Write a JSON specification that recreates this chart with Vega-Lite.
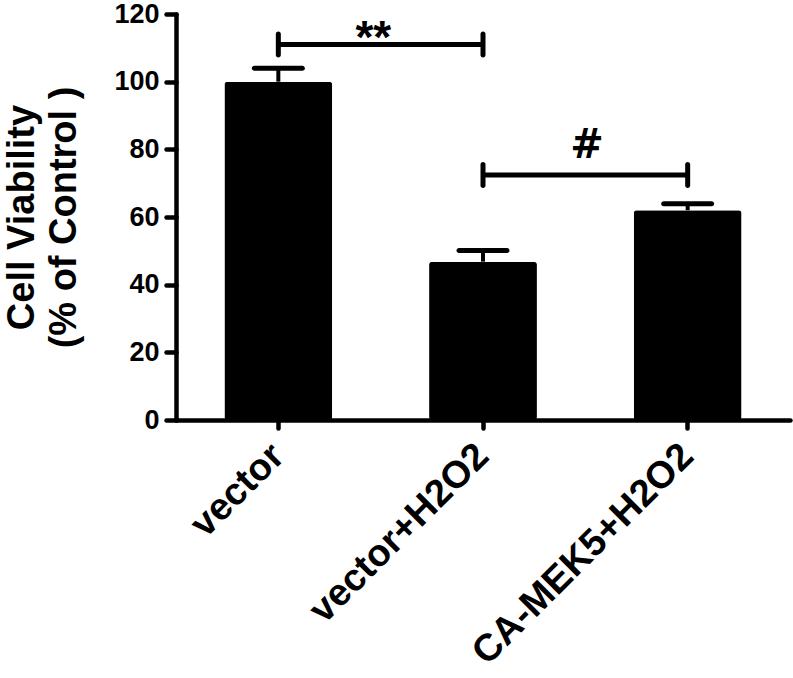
{
  "$schema": "https://vega.github.io/schema/vega-lite/v6.json",
  "width": 614,
  "height": 406,
  "autosize": "none",
  "padding": {"left": 176, "top": 14, "right": 3, "bottom": 258},
  "background": "white",
  "config": {
    "view": {"stroke": null},
    "font": "Liberation Sans",
    "axis": {
      "domainColor": "black", "domainWidth": 4.5, "domainCap": "round",
      "tickColor": "black", "tickWidth": 4.5, "tickCap": "round",
      "labelColor": "black", "labelFont": "Liberation Sans", "labelFontWeight": "bold",
      "titleColor": "black", "titleFont": "Liberation Sans", "titleFontWeight": "bold",
      "grid": false, "labelLimit": 0
    },
    "axisY": {"tickSize": 10, "labelFontSize": 27, "labelPadding": 7, "titleFontSize": 38, "titlePadding": 30, "titleLineHeight": 42},
    "axisX": {"tickSize": 8, "labelFontSize": 38, "labelAngle": -45, "labelBaseline": "middle", "labelPadding": 22}
  },
  "datasets": {
    "bars": [
      {"group": "vector", "mean": 100, "upper": 104},
      {"group": "vector+H2O2", "mean": 46.8, "upper": 50.1},
      {"group": "CA-MEK5+H2O2", "mean": 62, "upper": 63.9}
    ],
    "sig": [
      {"from": "vector", "to": "vector+H2O2", "level": 111, "label": "**"},
      {"from": "vector+H2O2", "to": "CA-MEK5+H2O2", "level": 72.4, "label": "#"}
    ]
  },
  "encoding": {
    "x": {"field": "group", "type": "nominal",
          "scale": {"domain": ["vector", "vector+H2O2", "CA-MEK5+H2O2"], "paddingInner": 0.473, "paddingOuter": 0.2365},
          "axis": {"title": null}}
  },
  "layer": [
    {
      "data": {"name": "bars"},
      "mark": {"type": "bar", "color": "black", "cornerRadius": 3},
      "encoding": {
        "y": {"field": "mean", "type": "quantitative",
              "scale": {"domain": [0, 120]},
              "axis": {"title": ["Cell Viability", "(% of Control )"], "values": [0, 20, 40, 60, 80, 100, 120]}}
      }
    },
    {
      "data": {"name": "bars"},
      "mark": {"type": "rule", "color": "black", "strokeWidth": 4},
      "encoding": {
        "y": {"field": "mean", "type": "quantitative"},
        "y2": {"field": "upper"}
      }
    },
    {
      "data": {"name": "bars"},
      "mark": {"type": "tick", "orient": "horizontal", "color": "black", "size": 53, "thickness": 5, "cornerRadius": 2.5, "opacity": 1},
      "encoding": {
        "y": {"field": "upper", "type": "quantitative"}
      }
    },
    {
      "data": {"name": "sig"},
      "mark": {"type": "rule", "color": "black", "strokeWidth": 5},
      "encoding": {
        "x": {"field": "from", "type": "nominal"},
        "x2": {"field": "to"},
        "y": {"field": "level", "type": "quantitative"}
      }
    },
    {
      "data": {"name": "sig"},
      "mark": {"type": "tick", "orient": "vertical", "color": "black", "size": 26, "thickness": 5, "cornerRadius": 2.5, "opacity": 1},
      "encoding": {
        "x": {"field": "from", "type": "nominal"},
        "y": {"field": "level", "type": "quantitative"}
      }
    },
    {
      "data": {"name": "sig"},
      "mark": {"type": "tick", "orient": "vertical", "color": "black", "size": 26, "thickness": 5, "cornerRadius": 2.5, "opacity": 1},
      "encoding": {
        "x": {"field": "to", "type": "nominal"},
        "y": {"field": "level", "type": "quantitative"}
      }
    },
    {
      "data": {"name": "sig"},
      "transform": [{"filter": "datum.label == '**'"}],
      "mark": {"type": "text", "color": "black", "fontSize": 46, "fontWeight": "bold", "font": "Liberation Sans", "align": "center", "baseline": "alphabetic", "dx": 95, "dy": 9},
      "encoding": {
        "x": {"field": "from", "type": "nominal"},
        "y": {"field": "level", "type": "quantitative"},
        "text": {"field": "label"}
      }
    },
    {
      "data": {"name": "sig"},
      "transform": [{"filter": "datum.label == '#'"}],
      "mark": {"type": "text", "color": "black", "fontSize": 40, "fontWeight": "bold", "font": "DejaVu Sans", "align": "center", "baseline": "alphabetic", "dx": 104, "dy": -17},
      "encoding": {
        "x": {"field": "from", "type": "nominal"},
        "y": {"field": "level", "type": "quantitative"},
        "text": {"field": "label"}
      }
    }
  ]
}
